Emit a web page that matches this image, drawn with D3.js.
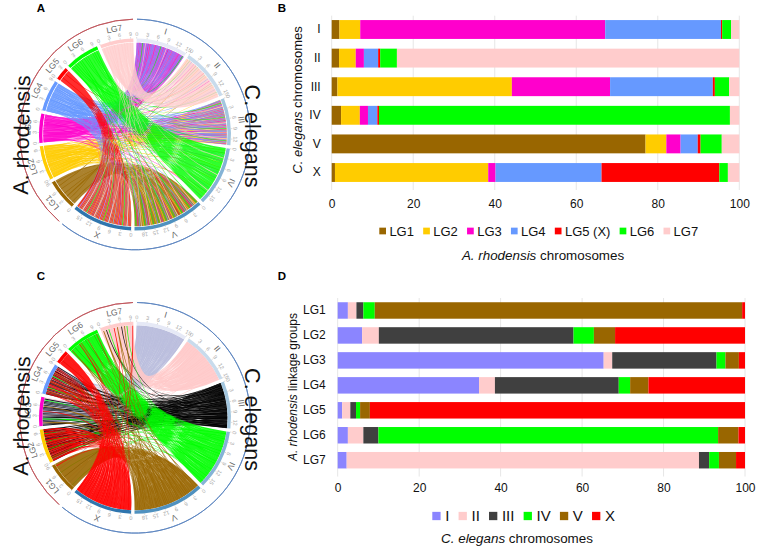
<!DOCTYPE html>
<html><head><meta charset="utf-8">
<script src="https://cdn.jsdelivr.net/npm/d3@7/dist/d3.min.js"></script>
<style>html,body{margin:0;background:#fff}svg{display:block}text{font-family:"Liberation Sans",Arial,sans-serif}</style>
</head><body><div id="c"></div>
<script>
const chromosomes=["I","II","III","IV","V","X"];
const linkageGroups=["LG1","LG2","LG3","LG4","LG5","LG6","LG7"];
const lgLegend=["LG1","LG2","LG3","LG4","LG5 (X)","LG6","LG7"];
const chromosomeMb=[15,15.2,13.8,17.5,20.9,17.7];
const linkageMb=[9.05,10.07,8.52,9.15,3.87,10.02,9.78];
const chromosomeTicks=[[0,3,6,9,12,15],[0,3,6,9,12,15],[0,3,6,9,12],[0,3,6,9,12,15],[0,3,6,9,12,15,18],[0,3,6,9,12,15]];
const linkageTicks=[[0,3,6,9],[0,3,6,9],[0,3,6],[0,3,6,9],[0,3],[0,3,6,9],[0,3,6,9]];
const percentTicks=[0,20,40,60,80,100];
// Panel B: share of each C. elegans chromosome in each linkage group
const chrI=[1.9,5.1,60.1,28.4,0.3,2.2,2.0];
const chrII=[1.8,4.1,2.0,3.5,0.5,4.1,84.0];
const chrIII=[1.4,42.8,24.1,25.2,0.5,3.5,2.5];
const chrIV=[2.3,4.6,2.0,2.3,0.4,86.1,2.3];
const chrV=[77.0,5.1,3.5,4.2,0.7,5.2,4.3];
const chrX=[0.8,37.6,1.8,26.0,28.9,2.1,2.8];
const byChromosome=[chrI,chrII,chrIII,chrIV,chrV,chrX];
// Panel D: share of each linkage group in each chromosome
const lg1=[2.5,2.1,1.7,2.8,90.2,0.7];
const lg2=[6.0,4.1,47.8,5.0,5.2,31.9];
const lg3=[65.3,2.1,25.6,2.2,3.3,1.5];
const lg4=[34.7,3.9,30.4,2.8,4.5,23.7];
const lg5=[1.1,2.0,1.4,1.0,2.4,92.1];
const lg6=[2.5,3.8,3.7,83.4,5.0,1.6];
const lg7=[2.2,86.5,2.5,2.4,4.2,2.2];
const byLinkage=[lg1,lg2,lg3,lg4,lg5,lg6,lg7];

const lgColors=["#996600","#FFCC00","#FF00CC","#6699FF","#FF0000","#00FF00","#FFCCCC"];
const chrColors=["#8B85FF","#FFCCCC","#404040","#00FF00","#996600","#FF0000"];
const chrChordColors=["#b9bddd","#FFC8C8","#000000","#00FF00","#996600","#FF0000"];
const chrTrackColors=["#e6e9f6","#c8dbec","#a3c6de","#85b3d6","#4f91bf","#2f75ae"];

const svg=d3.select("#c").append("svg").attr("width",757).attr("height",547);
const FONT_GREY="#111";

[["A",41,8],["B",282,8],["C",41,276],["D",282,276]].forEach(([t,x,y])=>{
  svg.append("text").attr("x",x).attr("y",y+4).attr("text-anchor","middle")
    .attr("font-size",11.5).attr("font-weight","bold").text(t);
});

const deg=Math.PI/180;
// Deterministic even interleave of a sector's slots according to its percentages
function interleave(weights,n){
  const credit=weights.map(()=>0),total=d3.sum(weights),out=[];
  for(let s=0;s<n;s++){
    weights.forEach((w,i)=>credit[i]+=w);
    const k=d3.greatestIndex(credit);
    credit[k]-=total;out.push(k);
  }
  return out;
}
function gcd(a,b){return b?gcd(b,a%b):a;}
// step coprime with n so that the two ends of a bundle are paired without a pinch
function pairingStep(n){let k=Math.max(1,Math.round(n*.618));while(gcd(k,n)!==1)k++;return k;}

function sectors(){
  const gap=2.05,all=[...chromosomeMb,...linkageMb];
  const perMb=(358-gap*12)/d3.sum(all);
  let a=1;const out=[];
  all.forEach(mb=>{out.push({a0:a,a1:a+mb*perMb,perMb});a+=mb*perMb+gap;});
  return {chr:out.slice(0,6),lg:out.slice(6)};
}

function chordPanel(cx,cy,opts){
  const g=svg.append("g").attr("transform",`translate(${cx},${cy})`);
  const sec=sectors(),rRib=opts.ribbonR,density=8;
  const ribbon=d3.ribbon().radius(rRib);
  const chrSlots=chromosomes.map((_,c)=>interleave(byChromosome[c],Math.round(chromosomeMb[c]*density)));
  const lgSlots=linkageGroups.map((_,l)=>interleave(byLinkage[l],Math.round(linkageMb[l]*density)));
  const pos=(slots,want)=>slots.map((v,i)=>v===want?i:-1).filter(i=>i>=0);
  const span=(s,i,n)=>{
    const w=(s.a1-s.a0)/n,grow=w*opts.widen;
    return{startAngle:Math.max(s.a0,s.a0+i*w-grow)*deg,endAngle:Math.min(s.a1,s.a0+(i+1)*w+grow)*deg};
  };
  const pairs=[];
  chromosomes.forEach((_,c)=>linkageGroups.forEach((_,l)=>pairs.push({c,l})));
  pairs.sort((p,q)=>opts.byChr?(p.c-q.c||p.l-q.l):(p.l-q.l||p.c-q.c));
  const ch=g.append("g");
  pairs.forEach(({c,l})=>{
    const S=pos(chrSlots[c],l),T=pos(lgSlots[l],c);
    if(!S.length||!T.length)return;
    const n=Math.max(S.length,T.length),k=pairingStep(n);
    const d=[];
    for(let i=0;i<n;i++){
      const j=(i*k)%n;
      d.push(ribbon({source:span(sec.chr[c],S[Math.floor(i*S.length/n)],chrSlots[c].length),
                     target:span(sec.lg[l],T[Math.floor(j*T.length/n)],lgSlots[l].length)}));
    }
    ch.append("path").attr("d",d.join("")).attr("fill",opts.byChr?chrChordColors[c]:lgColors[l]).attr("opacity",opts.alpha);
  });
  const arc=d3.arc();
  const track=(s,col)=>g.append("path").attr("fill",col).attr("d",arc({innerRadius:92.6,outerRadius:96,startAngle:s.a0*deg,endAngle:s.a1*deg}));
  sec.chr.forEach((s,i)=>track(s,chrTrackColors[i]));
  sec.lg.forEach((s,i)=>track(s,lgColors[i]));
  // outer species arcs
  const ring=(a0,a1,col)=>g.append("path").attr("fill","none").attr("stroke",col).attr("stroke-width",.9)
    .attr("d",arc({innerRadius:115.3,outerRadius:115.3,startAngle:a0*deg,endAngle:a1*deg}));
  ring(sec.chr[0].a0,sec.chr[5].a1,"#5b84c0");
  ring(sec.lg[0].a0,sec.lg[6].a1,"#c0565c");
  const label=(a,r,t,size,col)=>g.append("text").attr("transform",`rotate(${a}) translate(0,${-r})`)
    .attr("text-anchor","middle").attr("dy","0.35em").attr("font-size",size).attr("fill",col).text(t);
  const ticks=(s,vals)=>vals.forEach(v=>{
    const a=s.a0+v*s.perMb;
    g.append("line").attr("transform",`rotate(${a})`).attr("y1",-96).attr("y2",-97.5).attr("stroke","#bbb").attr("stroke-width",.5);
    label(a,100.5,v,5.5,"#a8a8a8");
  });
  sec.chr.forEach((s,i)=>{ticks(s,chromosomeTicks[i]);label((s.a0+s.a1)/2,107.5,chromosomes[i],8.5,"#666");});
  sec.lg.forEach((s,i)=>{ticks(s,linkageTicks[i]);label((s.a0+s.a1)/2,107.5,linkageGroups[i],8.5,"#666");});
  // species names
  const big=(x,y,rot,t)=>svg.append("text").attr("transform",`translate(${x},${y}) rotate(${rot})`)
    .attr("text-anchor","middle").attr("dy","0.35em").attr("font-size",21.5).attr("fill","#111").text(t);
  big(opts.ax,opts.ay,-89,"A. rhodensis");
  big(opts.cx,opts.cy,90,"C. elegans");
}

chordPanel(135,134.5,{ribbonR:91.8,alpha:.82,widen:.45,byChr:false,ax:21.5,ay:135,cx:252.5,cy:136});
chordPanel(135,417.8,{ribbonR:92.4,alpha:.9,widen:.45,byChr:true,ax:21.5,ay:416,cx:252.5,cy:419.5});

function stackPanel(o){
  const x=d3.scaleLinear().domain([0,100]).range([o.x0,o.x1]);
  const y=d3.scaleBand().domain(o.cats).range([o.yTop,o.yBot]).paddingInner(o.pad).paddingOuter(o.pad/2);
  const g=svg.append("g");
  const ax=d3.axisBottom(x).tickValues(percentTicks).tickSize(0).tickPadding(0).tickFormat(d3.format("d"));
  const gx=g.append("g").attr("transform",`translate(0,${o.yAxis})`).call(ax);
  gx.select(".domain").remove();
  gx.selectAll("text").attr("y",o.tickY-o.yAxis).attr("dy","0.35em").attr("font-size",12).attr("fill",FONT_GREY)
    .style("font-family",'"Liberation Sans",Arial,sans-serif');
  g.append("g").selectAll("line").data(percentTicks).join("line")
    .attr("x1",d=>x(d)).attr("x2",d=>x(d)).attr("y1",o.gridTop).attr("y2",o.yAxis)
    .attr("stroke","#e3e3e3").attr("stroke-width",.9);
  const stack=d3.stack().keys(d3.range(o.colors.length)).value((r,k)=>r[k]);
  const rows=stack(o.rows);
  rows.forEach((s,k)=>{
    g.append("g").attr("fill",o.colors[k]).selectAll("rect").data(s).join("rect")
      .attr("x",d=>x(d[0])).attr("width",d=>x(d[1])-x(d[0]))
      .attr("y",(d,i)=>y(o.cats[i])).attr("height",y.bandwidth());
  });
  const ay=d3.axisLeft(y).tickSize(0).tickPadding(0);
  const gy=g.append("g").attr("transform",`translate(${o.catX},0)`).call(ay);
  gy.select(".domain").remove();
  gy.selectAll("text").attr("font-size",12).attr("fill",FONT_GREY).attr("x",0)
    .style("font-family",'"Liberation Sans",Arial,sans-serif');
  // legend
  let lx=o.legX;
  const lg=g.append("g");
  o.legend.forEach((t,i)=>{
    lg.append("rect").attr("x",lx).attr("y",o.legY-o.sw/2).attr("width",o.sw).attr("height",o.sw).attr("fill",o.colors[i]);
    lx+=o.sw+o.swGap;
    const tx=lg.append("text").attr("x",lx).attr("y",o.legY).attr("dy","0.35em").attr("font-size",o.legFont).attr("fill",FONT_GREY).text(t);
    lx+=tx.node().getComputedTextLength()+o.itemGap;
  });
  const it=(sel,a,b)=>{sel.append("tspan").attr("font-style","italic").text(a);sel.append("tspan").text(b);};
  it(g.append("text").attr("x",o.xLabX).attr("y",o.xLabY).attr("dy","0.35em").attr("text-anchor","middle").attr("font-size",13.4).attr("fill",FONT_GREY),o.xLab[0],o.xLab[1]);
  it(g.append("text").attr("transform",`translate(${o.yLabX},${o.yLabY}) rotate(-90)`).attr("dy","0.35em").attr("text-anchor","middle").attr("font-size",o.yLabFont).attr("fill",FONT_GREY),o.yLab[0],o.yLab[1]);
}

stackPanel({cats:chromosomes,rows:byChromosome,colors:lgColors,legend:lgLegend,x0:331.7,x1:739.3,yTop:15.2,yBot:186.8,pad:.34,
  yAxis:190,gridTop:15.7,tickY:204,catX:320.7,legX:379.3,legY:231,sw:6.7,swGap:3.4,itemGap:9.2,legFont:13,
  xLab:["A. rhodensis"," chromosomes"],xLabX:543,xLabY:255,yLab:["C. elegans"," chromosomes"],yLabX:297,yLabY:100,yLabFont:13});
stackPanel({cats:linkageGroups,rows:byLinkage,colors:chrColors,legend:chromosomes,x0:337.7,x1:745,yTop:298,yBot:472.7,pad:.34,
  yAxis:476.5,gridTop:298,tickY:488,catX:325.7,legX:432.3,legY:516,sw:8.3,swGap:4.6,itemGap:9.2,legFont:15,
  xLab:["C. elegans"," chromosomes"],xLabX:517,xLabY:538,yLab:["A. rhodensis"," linkage groups"],yLabX:293,yLabY:387,yLabFont:12});
</script></body></html>
